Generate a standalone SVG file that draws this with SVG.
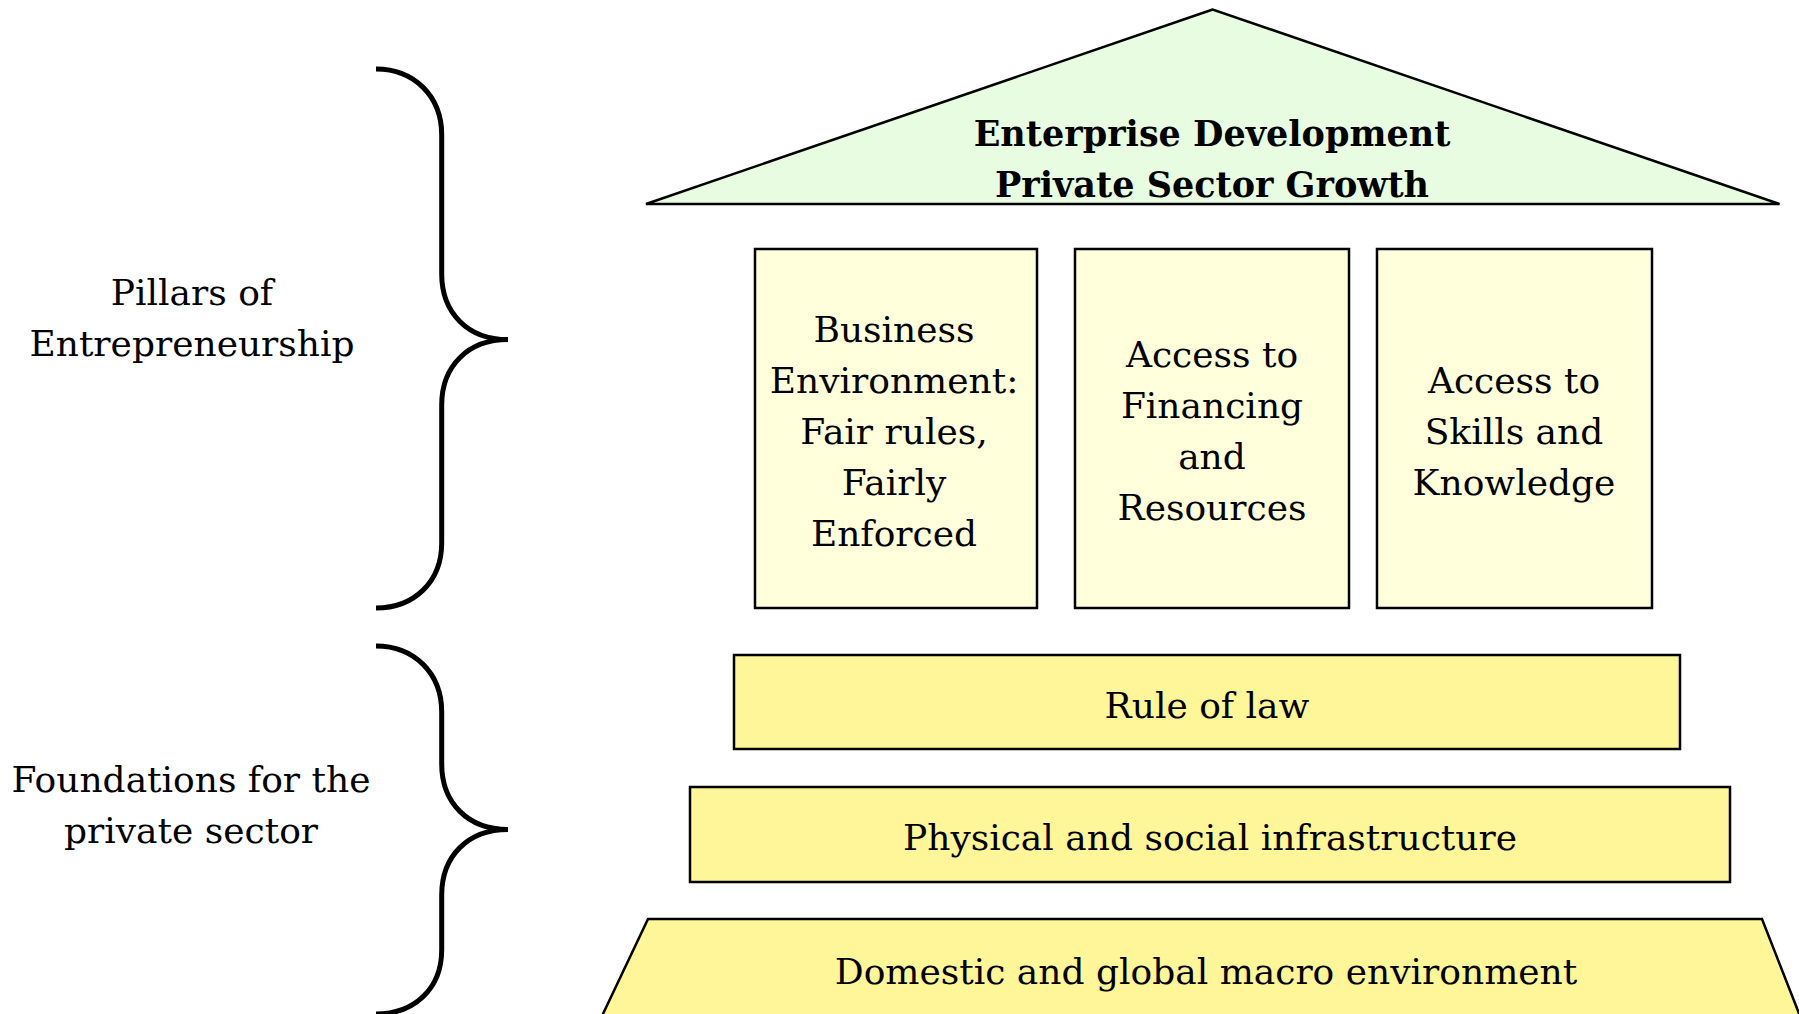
<svg xmlns="http://www.w3.org/2000/svg" width="1799" height="1014" viewBox="0 0 1799 1014">
<style>
.t{font-family:"DejaVu Serif","Liberation Serif",serif;font-size:36px;fill:#000;text-anchor:middle}
.b{font-weight:bold;font-size:35px}
.pillar{fill:#FFFFDC;stroke:#000;stroke-width:2.5}
.found{fill:#FFF599;stroke:#000;stroke-width:2.5}
.brace{fill:none;stroke:#000;stroke-width:5}
</style>
<rect width="1799" height="1014" fill="#fff"/>
<g id="roof">
<polygon points="1212.7,9.5 646,204 1779.5,204" fill="#E8FCE2" stroke="#000" stroke-width="2.5"/>
<text class="t b" x="1212" y="146">Enterprise Development</text>
<text class="t b" x="1212" y="197">Private Sector Growth</text>
</g>
<g id="pillar1">
<rect class="pillar" x="755" y="249" width="282" height="359"/>
<text class="t" x="894" y="342">Business</text>
<text class="t" x="894" y="393">Environment:</text>
<text class="t" x="894" y="444">Fair rules,</text>
<text class="t" x="894" y="495">Fairly</text>
<text class="t" x="894" y="546">Enforced</text>
</g>
<g id="pillar2">
<rect class="pillar" x="1075" y="249" width="274" height="359"/>
<text class="t" x="1212" y="367">Access to</text>
<text class="t" x="1212" y="418">Financing</text>
<text class="t" x="1212" y="469">and</text>
<text class="t" x="1212" y="520">Resources</text>
</g>
<g id="pillar3">
<rect class="pillar" x="1377" y="249" width="275" height="359"/>
<text class="t" x="1514" y="393">Access to</text>
<text class="t" x="1514" y="444">Skills and</text>
<text class="t" x="1514" y="495">Knowledge</text>
</g>
<g id="rule-of-law">
<rect class="found" x="734" y="655" width="946" height="94"/>
<text class="t" x="1207" y="718">Rule of law</text>
</g>
<g id="infrastructure">
<rect class="found" x="690" y="787" width="1040" height="95"/>
<text class="t" x="1210" y="850">Physical and social infrastructure</text>
</g>
<g id="macro">
<polygon class="found" points="648,919 1762,919 1800,1016 602,1016"/>
<text class="t" x="1206" y="984">Domestic and global macro environment</text>
</g>
<g id="label-pillars">
<text class="t" x="192" y="305">Pillars of</text>
<text class="t" x="192" y="356">Entrepreneurship</text>
</g>
<g id="label-foundations">
<text class="t" x="191" y="792">Foundations for the</text>
<text class="t" x="191" y="843">private sector</text>
</g>
<g id="connectors">
<path class="brace" d="M376,69 C414,69 441.7,96 441.7,135 L441.7,274 C441.7,313 468,339.6 508,339.6 C468,339.6 441.7,366 441.7,405 L441.7,543 C441.7,582 414,608 376,608"/>
<path class="brace" d="M376,646 C414,646 441.7,673 441.7,712 L441.7,764 C441.7,803 468,829.5 508,829.5 C468,829.5 441.7,856 441.7,895 L441.7,950 C441.7,989 414,1014 376,1014"/>
</g>
</svg>
